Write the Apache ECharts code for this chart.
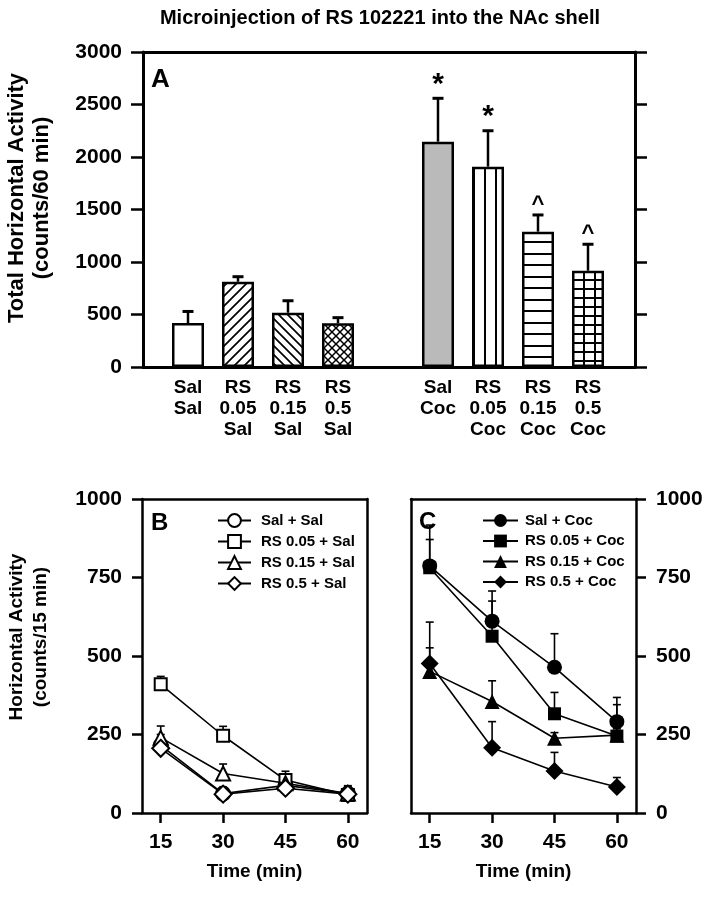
<!DOCTYPE html>
<html>
<head>
<meta charset="utf-8">
<script src="https://cdn.jsdelivr.net/npm/echarts@6/dist/echarts.min.js"></script>
<style>
html, body { margin: 0; padding: 0; background: #fff; }
#chart { width: 707px; height: 899px; }
</style>
</head>
<body>
<div id="chart"></div>
<script>
// panel A: total activity over 60 min (empty slot separates the two groups)
const groupLabels = ['Sal\nSal', 'RS\n0.05\nSal', 'RS\n0.15\nSal', 'RS\n0.5\nSal', '',
  'Sal\nCoc', 'RS\n0.05\nCoc', 'RS\n0.15\nCoc', 'RS\n0.5\nCoc']
const totalMeans = [419, 812, 517, 416, null, 2146, 1908, 1289, 917]
const totalErrs = [110, 48, 114, 54, null, 413, 342, 159, 252]
const sigMarks = ['', '', '', '', '', '*', '*', '^', '^']

// panels B and C: time course
const timePoints = [15, 30, 45, 60]
const salNames = ['Sal + Sal', 'RS 0.05 + Sal', 'RS 0.15 + Sal', 'RS 0.5 + Sal']
const salMeans = [
  [215, 62, 88, 62],
  [410, 246, 105, 57],
  [240, 126, 95, 62],
  [206, 60, 79, 60]
]
const salErrs = [
  [35, 20, 25, 20],
  [25, 30, 28, 25],
  [37, 30, 30, 25],
  [20, 15, 20, 20]
]
const cocNames = ['Sal + Coc', 'RS 0.05 + Coc', 'RS 0.15 + Coc', 'RS 0.5 + Coc']
const cocMeans = [
  [787, 611, 464, 291],
  [781, 563, 316, 245],
  [451, 355, 238, 248],
  [476, 208, 134, 83]
]
const cocErrs = [
  [130, 96, 107, 77],
  [90, 112, 68, 100],
  [75, 66, 18, 20],
  [132, 83, 59, 30]
]

const FONT = 'Liberation Sans'
const chart = echarts.init(document.getElementById('chart'))

function makeTile(w, h, draw) {
  const c = document.createElement('canvas')
  c.width = w
  c.height = h
  const ctx = c.getContext('2d')
  ctx.fillStyle = '#fff'
  ctx.fillRect(0, 0, w, h)
  ctx.strokeStyle = '#000'
  ctx.fillStyle = '#000'
  ctx.lineWidth = 1.7
  draw(ctx, w, h)
  return { image: c, repeat: 'repeat' }
}
const fills = {
  white: '#fff',
  grey: '#bababa',
  diagFwd: makeTile(10, 10, (ctx, w, h) => {
    ctx.beginPath()
    ctx.moveTo(-2, h + 2); ctx.lineTo(w + 2, -2)
    ctx.moveTo(-2, 2); ctx.lineTo(2, -2)
    ctx.moveTo(w - 2, h + 2); ctx.lineTo(w + 2, h - 2)
    ctx.stroke()
  }),
  diagBack: makeTile(9, 9, (ctx, w, h) => {
    ctx.beginPath()
    ctx.moveTo(-2, -2); ctx.lineTo(w + 2, h + 2)
    ctx.moveTo(w - 2, -2); ctx.lineTo(w + 2, 2)
    ctx.moveTo(-2, h - 2); ctx.lineTo(2, h + 2)
    ctx.stroke()
  }),
  cross: makeTile(8, 8, (ctx, w, h) => {
    ctx.lineWidth = 1.5
    ctx.beginPath()
    ctx.moveTo(-2, -2); ctx.lineTo(w + 2, h + 2)
    ctx.moveTo(-2, h + 2); ctx.lineTo(w + 2, -2)
    ctx.stroke()
  }),
  vlines: makeTile(11, 4, (ctx, w, h) => {
    ctx.fillRect(0, 0, 2, h)
  }),
  hlines: makeTile(4, 23, (ctx, w, h) => {
    ctx.fillRect(0, 0, w, 2)
    ctx.fillRect(0, 11, w, 2)
  }),
  grid: makeTile(11, 9, (ctx, w, h) => {
    ctx.fillRect(0, 0, 2, h)
    ctx.fillRect(0, 0, w, 2)
  })
}
const barFills = ['white', 'diagFwd', 'diagBack', 'cross', 'white', 'grey', 'vlines', 'hlines', 'grid']

const labelStyle = { color: '#000', fontFamily: FONT, fontWeight: 'bold' }
const plain = v => String(v)
const frameLine = (w) => ({ show: true, onZero: false, lineStyle: { color: '#000', width: w } })
function frameAxis(gridIndex, position, w) {
  return {
    type: 'value', gridIndex, position, min: 0, max: 1,
    axisLine: frameLine(w), axisTick: { show: false }, axisLabel: { show: false }, splitLine: { show: false }
  }
}
function timeAxis(gridIndex) {
  return {
    type: 'value', gridIndex, position: 'bottom', min: 10.5, max: 64.6,
    axisLine: frameLine(2.5),
    axisTick: { show: true, length: 10, customValues: timePoints, lineStyle: { color: '#000', width: 2.5 } },
    axisLabel: { show: true, customValues: timePoints, margin: 19, fontSize: 21, ...labelStyle },
    splitLine: { show: false },
    name: 'Time (min)', nameLocation: 'middle', nameGap: 49,
    nameTextStyle: { fontSize: 19, ...labelStyle }
  }
}
function countAxis(gridIndex, position, withLabels) {
  return {
    type: 'value', gridIndex, position, min: 0, max: 1000, interval: 250,
    axisLine: frameLine(2.5),
    axisTick: { show: withLabels, length: 10, lineStyle: { color: '#000', width: 2.5 } },
    axisLabel: { show: withLabels, margin: 20, fontSize: 21, formatter: plain, ...labelStyle },
    splitLine: { show: false }
  }
}

function errorSeries(xAxisIndex, yAxisIndex, means, errs, cap, width) {
  return {
    type: 'custom', xAxisIndex, yAxisIndex, z: 1, silent: true,
    data: timePoints.map((t, i) => [t, means[i], means[i] + errs[i]]),
    renderItem(params, api) {
      const p0 = api.coord([api.value(0), api.value(1)])
      const p1 = api.coord([api.value(0), api.value(2)])
      const st = { stroke: '#000', lineWidth: width }
      return {
        type: 'group',
        children: [
          { type: 'line', shape: { x1: p0[0], y1: p0[1], x2: p1[0], y2: p1[1] }, style: st },
          { type: 'line', shape: { x1: p1[0] - cap / 2, y1: p1[1], x2: p1[0] + cap / 2, y2: p1[1] }, style: st }
        ]
      }
    }
  }
}

const salSymbols = [['circle', 14], ['rect', 12], ['triangle', 14], ['diamond', 17]]
function timeSeries(names, means, errs, xAxisIndex, yAxisIndex, open) {
  const out = []
  names.forEach((name, k) => {
    out.push(errorSeries(xAxisIndex, yAxisIndex, means[k], errs[k], 8, 1.6))
  })
  names.forEach((name, k) => {
    out.push({
      name, type: 'line', xAxisIndex, yAxisIndex, z: 3 + k,
      data: timePoints.map((t, i) => [t, means[k][i]]),
      symbol: salSymbols[k][0], symbolSize: salSymbols[k][1] + (open ? 0 : 1),
      lineStyle: { color: '#000', width: 1.6 },
      itemStyle: open ? { color: '#fff', borderColor: '#000', borderWidth: 2 } : { color: '#000', borderColor: '#000', borderWidth: 0 },
      emphasis: { disabled: true }
    })
  })
  return out
}

const barIdx = totalMeans.map((m, i) => i).filter(i => totalMeans[i] != null)

const option = {
  backgroundColor: '#fff',
  animation: false,
  title: [
    { text: 'Microinjection of RS 102221 into the NAc shell', left: 375, top: 3, textAlign: 'center',
      textStyle: { fontSize: 20, ...labelStyle } },
    { text: 'A', left: 146, top: 62, textStyle: { fontSize: 26, ...labelStyle } },
    { text: 'B', left: 146, top: 506, textStyle: { fontSize: 24, ...labelStyle } },
    { text: 'C', left: 414, top: 505, textStyle: { fontSize: 24, ...labelStyle } }
  ],
  graphic: [
    { type: 'text', x: 29, y: 198, rotation: Math.PI / 2,
      style: { text: 'Total Horizontal Activity\n(counts/60 min)', font: 'bold 22px "Liberation Sans"', fill: '#000',
        align: 'center', verticalAlign: 'middle', textAlign: 'center', textVerticalAlign: 'middle', lineHeight: 25 } },
    { type: 'text', x: 29, y: 637, rotation: Math.PI / 2,
      style: { text: 'Horizontal Activity\n(counts/15 min)', font: 'bold 19px "Liberation Sans"', fill: '#000',
        align: 'center', verticalAlign: 'middle', textAlign: 'center', textVerticalAlign: 'middle', lineHeight: 24 } }
  ],
  legend: [
    { data: salNames, left: 217, top: 513, padding: 0, orient: 'vertical', itemWidth: 33, itemHeight: 16, itemGap: 6,
      textStyle: { fontSize: 15, padding: [0, 0, 0, 5], ...labelStyle }, selectedMode: false },
    { data: cocNames, left: 482, top: 513, padding: 0, orient: 'vertical', itemWidth: 35, itemHeight: 16, itemGap: 5.5,
      textStyle: { fontSize: 15, padding: [0, 0, 0, 2], ...labelStyle }, selectedMode: false }
  ],
  grid: [
    { left: 143, top: 52, width: 492, height: 315 },
    { left: 163, top: 52, width: 450, height: 315 },
    { left: 142, top: 499, width: 225, height: 314 },
    { left: 411, top: 499, width: 225, height: 314 }
  ],
  xAxis: [
    frameAxis(0, 'bottom', 3),
    frameAxis(0, 'top', 3),
    {
      type: 'category', gridIndex: 1, data: groupLabels,
      axisLine: { show: false }, axisTick: { show: false },
      axisLabel: { interval: 0, margin: 10, fontSize: 19, lineHeight: 21, ...labelStyle }
    },
    timeAxis(2),
    frameAxis(2, 'top', 2.5),
    timeAxis(3),
    frameAxis(3, 'top', 2.5)
  ],
  yAxis: [
    {
      type: 'value', gridIndex: 0, position: 'left', min: 0, max: 3000, interval: 500,
      axisLine: frameLine(3),
      axisTick: { show: true, length: 12, lineStyle: { color: '#000', width: 2.5 } },
      axisLabel: { margin: 21, fontSize: 21, formatter: plain, ...labelStyle },
      splitLine: { show: false }
    },
    {
      type: 'value', gridIndex: 0, position: 'right', min: 0, max: 3000, interval: 500,
      axisLine: frameLine(3),
      axisTick: { show: true, length: 12, lineStyle: { color: '#000', width: 2.5 } },
      axisLabel: { show: false },
      splitLine: { show: false }
    },
    { type: 'value', gridIndex: 1, min: 0, max: 3000, show: false },
    countAxis(2, 'left', true),
    countAxis(2, 'right', false),
    countAxis(3, 'left', false),
    countAxis(3, 'right', true)
  ],
  series: [
    {
      type: 'bar', xAxisIndex: 2, yAxisIndex: 2, barWidth: 32, z: 2,
      data: totalMeans.map((m, i) => m == null ? '-' : {
        value: m,
        itemStyle: { color: fills[barFills[i]], borderColor: '#000', borderWidth: 2.5 }
      }),
      emphasis: { disabled: true }
    },
    {
      type: 'custom', xAxisIndex: 2, yAxisIndex: 2, z: 3, silent: true,
      data: barIdx.map(i => [i, totalMeans[i], totalMeans[i] + totalErrs[i]]),
      renderItem(params, api) {
        const i = api.value(0)
        const p0 = api.coord([i, api.value(1)])
        const p1 = api.coord([i, api.value(2)])
        const st = { stroke: '#000', lineWidth: 2.5 }
        const children = [
          { type: 'line', shape: { x1: p0[0], y1: p0[1], x2: p1[0], y2: p1[1] }, style: st },
          { type: 'line', shape: { x1: p1[0] - 5.5, y1: p1[1], x2: p1[0] + 5.5, y2: p1[1] }, style: { stroke: '#000', lineWidth: 3 } }
        ]
        const mark = sigMarks[i]
        if (mark) {
          const star = mark === '*'
          children.push({
            type: 'text', x: p1[0], y: p1[1] - (star ? 14 : 10),
            style: { text: mark, font: 'bold ' + (star ? 30 : 22) + 'px "Liberation Sans"', fill: '#000',
              align: 'center', verticalAlign: 'middle', textAlign: 'center', textVerticalAlign: 'middle' }
          })
        }
        return { type: 'group', children }
      }
    },
    ...timeSeries(salNames, salMeans, salErrs, 3, 3, true),
    ...timeSeries(cocNames, cocMeans, cocErrs, 5, 6, false)
  ]
}
chart.setOption(option)
</script>
</body>
</html>
